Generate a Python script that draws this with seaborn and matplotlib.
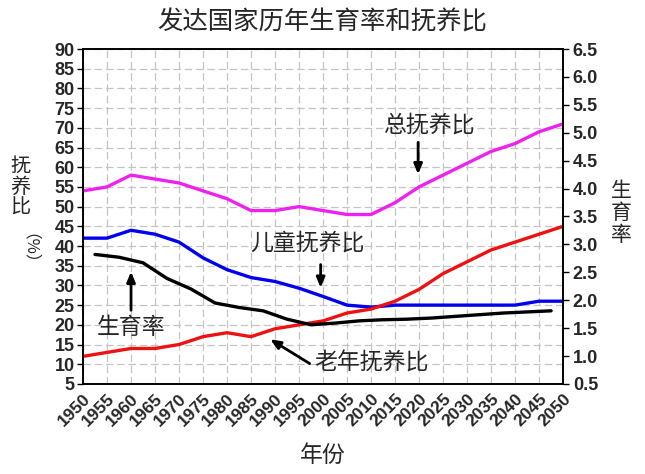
import matplotlib
matplotlib.use("Agg")
import matplotlib.pyplot as plt
import seaborn as sns
import pandas as pd
import numpy as np

# data
years = list(range(1950, 2051, 5))
total_dep = [54, 55, 58, 57, 56, 54, 52, 49, 49, 50, 49, 48, 48, 51, 55, 58, 61, 64, 66, 69, 71]
child_dep = [42, 42, 44, 43, 41, 37, 34, 32, 31, 29.3, 27.2, 25, 24.5, 25, 25, 25, 25, 25, 25, 26, 26]
old_dep = [12, 13, 14, 14, 15, 17, 18, 17, 19, 20, 21, 23, 24, 26, 29, 33, 36, 39, 41, 43, 45]
fert_years = [y + 2.5 for y in range(1950, 2050, 5)]
fertility = [2.82, 2.77, 2.67, 2.39, 2.20, 1.95, 1.87, 1.81, 1.66, 1.56,
             1.59, 1.63, 1.65, 1.66, 1.68, 1.71, 1.74, 1.77, 1.79, 1.81]

sns.set_style("white")
plt.rcParams['font.family'] = ['Noto Sans CJK SC', 'DejaVu Sans']

dep = pd.DataFrame({"year": years, "total": total_dep, "child": child_dep, "old": old_dep})
fer = pd.DataFrame({"year": fert_years, "fertility": fertility})

fig = plt.figure(figsize=(6.45, 4.74), dpi=100)
ax = fig.add_axes([0.1287, 0.19, 0.8730 - 0.1287, 0.8966 - 0.19])
ax2 = ax.twinx()

lw = 2.4
sns.lineplot(data=dep, x="year", y="total", ax=ax, color="#EE22EE", lw=lw)
sns.lineplot(data=dep, x="year", y="child", ax=ax, color="#0000EE", lw=lw)
sns.lineplot(data=dep, x="year", y="old", ax=ax, color="#EE1111", lw=lw)
sns.lineplot(data=fer, x="year", y="fertility", ax=ax2, color="black", lw=lw)

ax.set_xlim(1950, 2050)
ax.set_ylim(5, 90)
ax2.set_ylim(0.5, 6.5)
ax.set_xticks(years)
ax.set_yticks(range(5, 91, 5))
ax2.set_yticks(np.arange(0.5, 6.51, 0.5))
ax2.set_yticklabels([f"{v:.1f}" for v in np.arange(0.5, 6.51, 0.5)])

ax.grid(True, color="#C4C4C4", ls=(0, (6, 3)), lw=0.9)
ax.set_axisbelow(True)

tick_font = dict(family="Liberation Sans", weight="bold", size=13)
for lab in ax.get_yticklabels() + ax2.get_yticklabels():
    lab.set_fontproperties(tick_font)
ax.set_xticklabels([str(y) for y in years], rotation=45, ha="right",
                   rotation_mode="anchor", fontfamily="Liberation Sans",
                   fontweight="bold", fontsize=12.5)
ax.tick_params(axis="both", direction="out", length=4, width=1, color="black", pad=2)
ax2.tick_params(axis="y", direction="out", length=4, width=1, color="black", pad=3)
ax.tick_params(axis="x", pad=1)

for a in (ax, ax2):
    for s in a.spines.values():
        s.set_color("black")
        s.set_linewidth(1.2)

ax.set_xlabel("")
ax.set_ylabel("")
ax2.set_ylabel("")

fig.text(0.5, 0.953, "发达国家历年生育率和抚养比", ha="center", va="center", fontsize=18.3)
fig.text(0.5, 0.04, "年份", ha="center", va="center", fontsize=16.5)
fig.text(0.031, 0.605, "抚\n养\n比", ha="center", va="center", fontsize=14.5, linespacing=1.0)
fig.text(0.031, 0.458, "（%）", ha="center", va="center", fontsize=12, rotation=-90)
fig.text(0.963, 0.55, "生\n育\n率", ha="center", va="center", fontsize=15, linespacing=1.0)

# annotations
arrow = dict(arrowstyle="-|>,head_length=0.6,head_width=0.25", color="black", lw=2)
fs = 16.5
ax.text(2022.1, 70.7, "总抚养比", ha="center", va="center", fontsize=fs)
ax.annotate("", xy=(2019.8, 57.5), xytext=(2019.8, 67), arrowprops=arrow)
ax.text(1996.7, 40.8, "儿童抚养比", ha="center", va="center", fontsize=fs)
ax.annotate("", xy=(1999.5, 28.7), xytext=(1999.5, 36), arrowprops=arrow)
ax.text(1960, 19.2, "生育率", ha="center", va="center", fontsize=fs)
ax.annotate("", xy=(1960, 34.2), xytext=(1960, 23), arrowprops=arrow)
ax.text(2010, 10.3, "老年抚养比", ha="center", va="center", fontsize=fs)
ax.annotate("", xy=(1988.5, 16.7), xytext=(1997.7, 9.8), arrowprops=arrow)

fig.savefig("out.png", dpi=100)
